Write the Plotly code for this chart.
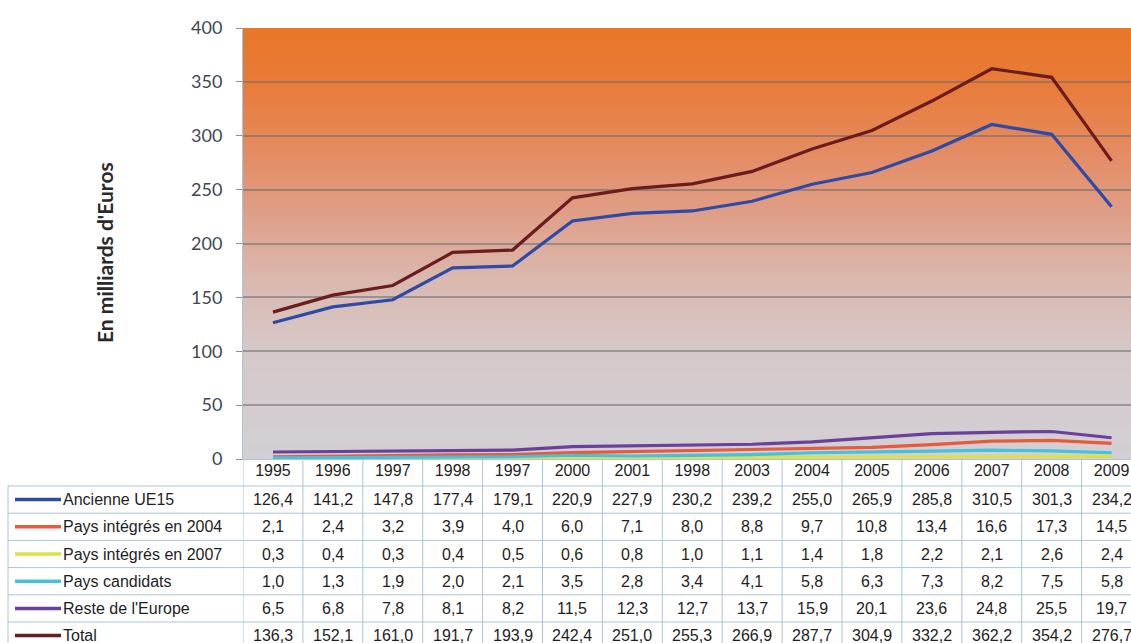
import plotly.graph_objects as go

# ---------------- data ----------------
years = ["1995", "1996", "1997", "1998", "1997", "2000", "2001", "1998",
         "2003", "2004", "2005", "2006", "2007", "2008", "2009"]
ancienne_ue15 = [126.4, 141.2, 147.8, 177.4, 179.1, 220.9, 227.9, 230.2,
                 239.2, 255.0, 265.9, 285.8, 310.5, 301.3, 234.2]
pays_2004 = [2.1, 2.4, 3.2, 3.9, 4.0, 6.0, 7.1, 8.0, 8.8, 9.7, 10.8, 13.4, 16.6, 17.3, 14.5]
pays_2007 = [0.3, 0.4, 0.3, 0.4, 0.5, 0.6, 0.8, 1.0, 1.1, 1.4, 1.8, 2.2, 2.1, 2.6, 2.4]
pays_candidats = [1.0, 1.3, 1.9, 2.0, 2.1, 3.5, 2.8, 3.4, 4.1, 5.8, 6.3, 7.3, 8.2, 7.5, 5.8]
reste_europe = [6.5, 6.8, 7.8, 8.1, 8.2, 11.5, 12.3, 12.7, 13.7, 15.9, 20.1, 23.6, 24.8, 25.5, 19.7]
total = [136.3, 152.1, 161.0, 191.7, 193.9, 242.4, 251.0, 255.3, 266.9,
         287.7, 304.9, 332.2, 362.2, 354.2, 276.7]

series_names = ["Ancienne UE15", "Pays intégrés en 2004", "Pays intégrés en 2007",
                "Pays candidats", "Reste de l'Europe", "Total"]
series_values = [ancienne_ue15, pays_2004, pays_2007, pays_candidats, reste_europe, total]
series_colors = ["#2c4aa6", "#e85a3c", "#dfe046", "#45c1dc", "#6b3f9c", "#6a1c1e"]

y_title = "En milliards d'Euros"

# ---------------- geometry ----------------
W, H = 1131, 643
ML, MR, MT, MB = 243, 0, 28, 184
plot_w = W - ML - MR
plot_h = H - MT - MB
col_px = 59.9
x_min = -0.5
x_max = x_min + plot_w / col_px


def py_to_paper(py):
    return (H - MB - py) / plot_h


def px_to_paper(px):
    return (px - ML) / plot_w


fig = go.Figure()
xs = list(range(len(years)))
for name, vals, col in zip(series_names, series_values, series_colors):
    fig.add_trace(go.Scatter(x=xs, y=vals, mode="lines", name=name,
                             line=dict(color=col, width=3.2), showlegend=False,
                             cliponaxis=False))

shapes = []
# background gradient (orange top -> light grey bottom)
stops = [(0.0, (210, 208, 213)), (0.25, (214, 200, 201)), (0.42, (218, 184, 174)),
         (0.56, (223, 160, 138)), (0.72, (229, 138, 96)), (0.86, (232, 124, 58)),
         (1.0, (233, 118, 40))]


def color_at(t):
    for (t0, c0), (t1, c1) in zip(stops[:-1], stops[1:]):
        if t0 <= t <= t1:
            f = (t - t0) / (t1 - t0)
            return "rgb(%d,%d,%d)" % tuple(round(a + (b - a) * f) for a, b in zip(c0, c1))
    return "rgb(%d,%d,%d)" % stops[-1][1]


N = 120
for k in range(N):
    y0 = k / N
    y1 = min(1.0, (k + 1) / N + 0.004)
    shapes.append(dict(type="rect", xref="paper", yref="paper", x0=0, x1=1, y0=y0, y1=y1,
                       fillcolor=color_at((k + 0.5) / N), line=dict(width=0), layer="below"))

table_line = "#a9c6d4"
row_top = 486
row_h = 27.2
n_rows = len(series_names)
bottom_paper = py_to_paper(H + 10)

# horizontal table lines
for k in range(n_rows):
    yy = py_to_paper(row_top + k * row_h)
    shapes.append(dict(type="line", xref="paper", yref="paper", x0=px_to_paper(8), x1=1,
                       y0=yy, y1=yy, line=dict(color=table_line, width=1)))
# left border of table
shapes.append(dict(type="line", xref="paper", yref="paper", x0=px_to_paper(8), x1=px_to_paper(8),
                   y0=py_to_paper(row_top), y1=bottom_paper, line=dict(color=table_line, width=1)))
# vertical column separators
for i in range(len(years) + 1):
    shapes.append(dict(type="line", xref="x", yref="paper", x0=i - 0.5, x1=i - 0.5,
                       y0=0, y1=bottom_paper, line=dict(color=table_line, width=1)))
# legend keys
for k, col in enumerate(series_colors):
    yy = py_to_paper(row_top + (k + 0.5) * row_h)
    shapes.append(dict(type="line", xref="paper", yref="paper", x0=px_to_paper(15), x1=px_to_paper(61),
                       y0=yy, y1=yy, line=dict(color=col, width=3.5)))

annotations = []
tfont = dict(family="Liberation Sans, Arial", size=16, color="#1e1e1e")
for k, (name, vals) in enumerate(zip(series_names, series_values)):
    yy = py_to_paper(row_top + (k + 0.5) * row_h)
    annotations.append(dict(text=name, xref="paper", yref="paper", x=px_to_paper(61), y=yy,
                            xanchor="left", yanchor="middle", showarrow=False, font=tfont))
    for i, v in enumerate(vals):
        annotations.append(dict(text=f"{v:.1f}".replace(".", ","), xref="x", yref="paper",
                                x=i, y=yy, xanchor="center", yanchor="middle",
                                showarrow=False, font=tfont))

annotations.append(dict(text="<b>" + y_title + "</b>", xref="paper", yref="paper",
                        x=px_to_paper(105), y=py_to_paper(253), textangle=-90,
                        xanchor="center", yanchor="middle", showarrow=False,
                        font=dict(family="Lato", size=21, color="#2a2a2a")))

fig.update_layout(
    width=W, height=H,
    margin=dict(l=ML, r=MR, t=MT, b=MB, pad=0),
    paper_bgcolor="white",
    plot_bgcolor="rgba(0,0,0,0)",
    shapes=shapes,
    annotations=annotations,
    xaxis=dict(range=[x_min, x_max], tickvals=xs, ticktext=years, showgrid=False,
               zeroline=False, showline=True, linecolor=table_line, linewidth=1,
               ticks="", tickfont=dict(family="Liberation Sans, Arial", size=16, color="#1e1e1e"),
               ticklabelstandoff=-3),
    yaxis=dict(range=[0, 400], dtick=50, showgrid=True, gridcolor="rgba(105,105,115,0.55)",
               gridwidth=1.5, zeroline=False, showline=True, linecolor=table_line, linewidth=1,
               ticks="outside", ticklen=6, tickcolor="#8a8f96",
               tickfont=dict(family="Lato", size=18, color="#3e4752"),
               ticklabelstandoff=10),
)

fig.write_html("out.html", config={"displayModeBar": False},
               post_script="document.body.style.margin='0';document.body.style.overflow='hidden';")
